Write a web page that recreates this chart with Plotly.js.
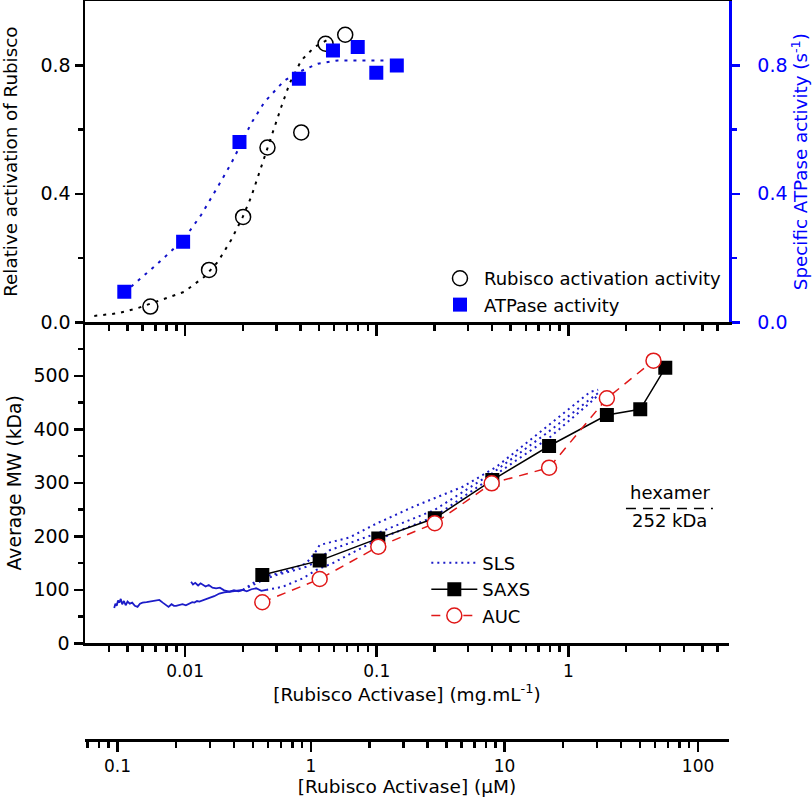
<!DOCTYPE html>
<html>
<head>
<meta charset="utf-8">
<script src="https://cdn.plot.ly/plotly-3.0.1.min.js"></script>
<style>html,body{margin:0;padding:0;background:#fff;}#chart{width:812px;height:799px;}</style>
</head>
<body>
<div id="chart"></div>
<script>
// ---------- Top panel data ----------
const rubiscoConc = [0.00659, 0.01334, 0.02009, 0.02692, 0.04039, 0.0541, 0.0685];
const rubiscoActivation = [0.049, 0.163, 0.328, 0.544, 0.591, 0.867, 0.895];
const atpaseConc = [0.00482, 0.00977, 0.01923, 0.03926, 0.05913, 0.0796, 0.0995, 0.1273];
const atpaseActivity = [0.095, 0.251, 0.561, 0.758, 0.846, 0.857, 0.777, 0.799];
const rubiscoFitConc = [0.00336, 0.00444, 0.00565, 0.0075, 0.00991, 0.01262, 0.01482, 0.01739, 0.0200, 0.02213, 0.02398, 0.02651, 0.02871, 0.03175, 0.0351, 0.04039, 0.04742, 0.05565];
const rubiscoFitVal = [0.020, 0.028, 0.044, 0.069, 0.095, 0.142, 0.188, 0.256, 0.328, 0.390, 0.453, 0.525, 0.588, 0.670, 0.743, 0.815, 0.857, 0.880];
const atpaseFitConc = [0.00523, 0.00705, 0.00977, 0.01213, 0.01482, 0.01739, 0.01923, 0.02213, 0.026, 0.03304, 0.03926, 0.0493, 0.0628, 0.085, 0.110];
const atpaseFitVal = [0.111, 0.178, 0.256, 0.334, 0.422, 0.494, 0.546, 0.619, 0.686, 0.753, 0.779, 0.805, 0.815, 0.816, 0.815];

// ---------- Bottom panel data ----------
const saxsConc = [0.0253, 0.0504, 0.1019, 0.2009, 0.401, 0.793, 1.588, 2.371, 3.203];
const saxsMW = [127.7, 154.5, 196, 233.6, 305, 368.8, 426.7, 437.3, 515];
const aucConc = [0.0253, 0.0504, 0.1019, 0.2009, 0.398, 0.793, 1.588, 2.78];
const aucMW = [76.6, 120.2, 180.6, 224.3, 299, 328.2, 457.9, 528.3];
// SLS: two noisy low-concentration scans, then three dotted scans
const slsNoisyAConc = [0.00427, 0.00433, 0.00440, 0.00447, 0.00454, 0.00462, 0.00470, 0.00480, 0.00490, 0.00501, 0.00515, 0.00530, 0.00547, 0.00565, 0.00582, 0.0060, 0.0063, 0.0066, 0.0070, 0.00734, 0.00765, 0.00796, 0.0082, 0.0085, 0.00875, 0.00898, 0.0093, 0.0097, 0.0101, 0.01052, 0.0109, 0.0112, 0.01155, 0.01188, 0.0126, 0.0134, 0.0142, 0.0151, 0.0160, 0.01706, 0.0185, 0.0200];
const slsNoisyAMW = [66, 74, 70, 80, 76, 83, 73, 79, 71, 78, 74, 76, 70, 68, 74, 76, 77, 78, 79, 81, 76, 72, 68, 73, 70, 70, 72, 73, 71, 75, 77, 76, 79, 78, 82, 85, 88, 93, 95, 96, 97, 99.6];
const slsNoisyBConc = [0.01075, 0.0110, 0.01130, 0.0117, 0.01205, 0.01236, 0.0128, 0.0133, 0.0139, 0.01452, 0.0152, 0.0160, 0.01706, 0.0180, 0.0190, 0.0200, 0.0210, 0.0222, 0.0235, 0.0250, 0.0265];
const slsNoisyBMW = [115, 110, 113, 108, 112, 109, 106, 109, 104, 102.8, 104, 99, 96.4, 99, 97, 99.6, 97, 101, 102.8, 98, 99.6];
const slsUpperConc = [0.0200, 0.02545, 0.0299, 0.0351, 0.0429, 0.0474, 0.0504, 0.0591, 0.0723, 0.1, 0.155, 0.283, 0.422, 0.631, 0.942, 1.30, 1.43];
const slsUpperMW = [99.6, 124.5, 130, 137, 149.5, 168, 183.7, 190, 198, 224, 255, 293, 330, 380, 430, 470, 474];
const slsMiddleConc = [0.0200, 0.02256, 0.02545, 0.0299, 0.0351, 0.0429, 0.0484, 0.0569, 0.1, 0.2, 0.4, 0.769, 1.30, 1.43];
const slsMiddleMW = [99.6, 109, 118, 127.7, 133.8, 143, 152.5, 174, 205.6, 249, 317.8, 392.5, 455, 468];
const slsLowerConc = [0.0265, 0.0324, 0.0412, 0.0484, 0.0591, 0.1, 0.2, 0.4, 0.8, 1.3, 1.45];
const slsLowerMW = [99.6, 105.8, 121.5, 137, 150, 193, 236.6, 311.4, 385, 450, 466];
const hexamerMW = 252;

// ---------- tick labels ----------
const mgTickVals = [0.01, 0.1, 1];
const mgTickText = ['0.01', '0.1', '1'];
const uMTickVals = [0.1, 1, 10, 100];
const uMTickText = ['0.1', '1', '10', '100'];
const topYTickVals = [0, 0.4, 0.8];
const topYTickText = ['0.0', '0.4', '0.8'];
const mwTickVals = [0, 100, 200, 300, 400, 500];
const mwMinorVals = [50, 150, 250, 350, 450, 550];

function logMinor(lo, hi) {
  const out = [];
  for (let e = Math.floor(Math.log10(lo)); e <= Math.ceil(Math.log10(hi)); e++) {
    for (let k = 2; k <= 9; k++) {
      const v = k * Math.pow(10, e);
      if (v >= lo && v <= hi) out.push(v);
    }
  }
  return out;
}

const FONT = 'DejaVu Sans, Verdana, sans-serif';
const BLUE = '#0000ff';
const SLSBLUE = '#1c1cc8';
const XR = [-2.522, 0.838];
const BOT_DOM = [0.1309, 0.5652];
const TOP_DOM = [0.5652, 1.0];
const NBSP = '\u00a0';

const slsLine = {color: SLSBLUE, width: 2, dash: '2px,4px'};
const slsNoisyLine = {color: SLSBLUE, width: 1.8};

const traces = [
  {x: rubiscoFitConc, y: rubiscoFitVal, xaxis: 'x2', yaxis: 'y2', mode: 'lines',
   line: {color: '#000', width: 2, dash: '3px,6px'}, showlegend: false, hoverinfo: 'skip'},
  {x: atpaseFitConc, y: atpaseFitVal, xaxis: 'x2', yaxis: 'y3', mode: 'lines',
   line: {color: '#1010c8', width: 2, dash: '3px,6px'}, showlegend: false, hoverinfo: 'skip'},
  {x: rubiscoConc, y: rubiscoActivation, xaxis: 'x2', yaxis: 'y2', mode: 'markers',
   name: 'Rubisco activation activity', legend: 'legend',
   marker: {symbol: 'circle-open', size: 15, color: '#000', line: {width: 1.5, color: '#000'}}},
  {x: atpaseConc, y: atpaseActivity, xaxis: 'x2', yaxis: 'y3', mode: 'markers',
   name: 'ATPase activity', legend: 'legend',
   marker: {symbol: 'square', size: 14, color: BLUE, line: {width: 0}}},

  {x: slsNoisyAConc, y: slsNoisyAMW, xaxis: 'x', yaxis: 'y', mode: 'lines', line: slsNoisyLine,
   showlegend: false, legend: 'legend2', hoverinfo: 'skip'},
  {x: slsNoisyBConc, y: slsNoisyBMW, xaxis: 'x', yaxis: 'y', mode: 'lines', line: slsNoisyLine,
   showlegend: false, legend: 'legend2', hoverinfo: 'skip'},
  {x: slsUpperConc, y: slsUpperMW, xaxis: 'x', yaxis: 'y', mode: 'lines', line: slsLine, name: 'SLS', legend: 'legend2', showlegend: true},
  {x: slsMiddleConc, y: slsMiddleMW, xaxis: 'x', yaxis: 'y', mode: 'lines', line: slsLine, showlegend: false, legend: 'legend2'},
  {x: slsLowerConc, y: slsLowerMW, xaxis: 'x', yaxis: 'y', mode: 'lines', line: slsLine, showlegend: false, legend: 'legend2'},
  {x: saxsConc, y: saxsMW, xaxis: 'x', yaxis: 'y', mode: 'lines+markers', name: 'SAXS', legend: 'legend2',
   line: {color: '#000', width: 1.5}, marker: {symbol: 'square', size: 14, color: '#000'}},
  {x: aucConc, y: aucMW, xaxis: 'x', yaxis: 'y', mode: 'lines+markers', name: 'AUC', legend: 'legend2',
   line: {color: '#e01818', width: 1.5, dash: '9px,7px'},
   marker: {symbol: 'circle', size: 15, color: '#fff', line: {color: '#e01818', width: 1.5}}},
  // activates the secondary (µM) concentration axis; draws no marks
  {x: uMTickVals, y: uMTickVals.map(() => null), xaxis: 'x3', yaxis: 'y', mode: 'markers',
   showlegend: false, hoverinfo: 'skip', marker: {opacity: 0}}
];

const axBase = {
  showgrid: false, zeroline: false, showline: true, linecolor: '#000', linewidth: 2.5,
  ticks: 'outside', tickcolor: '#000', tickwidth: 2.5, ticklen: 10,
  tickfont: {family: FONT, size: 17, color: '#000'}
};

const layout = {
  width: 812, height: 799,
  margin: {l: 85, r: 83, t: 1, b: 59},
  paper_bgcolor: '#fff', plot_bgcolor: 'rgba(0,0,0,0)',
  font: {family: FONT, size: 18, color: '#000'},
  xaxis: Object.assign({}, axBase, {
    domain: [0, 1], anchor: 'y', type: 'log', range: XR,
    tickmode: 'array', tickvals: mgTickVals, ticktext: mgTickText, ticklen: 11,
    minor: {tickmode: 'array', tickvals: logMinor(0.003, 7), ticks: 'outside', ticklen: 6, tickwidth: 2.5, tickcolor: '#000'},
    title: {text: '[Rubisco Activase] (mg.mL<sup>-1</sup>)', font: {family: FONT, size: 18.5}, standoff: 6}
  }),
  yaxis: Object.assign({}, axBase, {
    domain: BOT_DOM, anchor: 'x', range: [0, 600],
    tickmode: 'array', tickvals: mwTickVals, ticklen: 9, tickfont: {family: FONT, size: 19, color: '#000'},
    minor: {tickmode: 'array', tickvals: mwMinorVals, ticks: 'outside', ticklen: 5, tickwidth: 2.5, tickcolor: '#000'},
    title: {text: 'Average MW (kDa)', font: {family: FONT, size: 18.8}, standoff: 7}
  }),
  yaxis4: Object.assign({}, axBase, {
    overlaying: 'y', side: 'right', anchor: 'x', range: [0, 600], ticks: 'inside', ticklen: 9,
    tickmode: 'array', tickvals: mwTickVals, showticklabels: false,
    minor: {tickmode: 'array', tickvals: mwMinorVals, ticks: 'inside', ticklen: 5, tickwidth: 2.5, tickcolor: '#000'}
  }),
  xaxis2: Object.assign({}, axBase, {
    domain: [0, 1], anchor: 'y2', type: 'log', range: XR, mirror: true,
    tickmode: 'array', tickvals: mgTickVals, showticklabels: false, ticklen: 11,
    minor: {tickmode: 'array', tickvals: logMinor(0.003, 7), ticks: 'outside', ticklen: 6, tickwidth: 2.5, tickcolor: '#000'}
  }),
  yaxis2: Object.assign({}, axBase, {
    domain: TOP_DOM, anchor: 'x2', range: [0, 1.0],
    tickmode: 'array', tickvals: topYTickVals, ticktext: topYTickText, ticklen: 8,
    tickfont: {family: FONT, size: 19, color: '#000'},
    minor: {tickmode: 'array', tickvals: [0.2, 0.6], ticks: 'outside', ticklen: 5, tickwidth: 2.5, tickcolor: '#000'},
    title: {text: 'Relative activation of Rubisco' + NBSP.repeat(5), font: {family: FONT, size: 18.3}, standoff: 19}
  }),
  yaxis3: Object.assign({}, axBase, {
    overlaying: 'y2', side: 'right', anchor: 'x2', range: [0, 1.0],
    linecolor: BLUE, tickcolor: BLUE, ticklen: 8, ticklabelstandoff: 14,
    tickmode: 'array', tickvals: topYTickVals, ticktext: topYTickText,
    tickfont: {family: FONT, size: 19, color: BLUE},
    minor: {tickmode: 'array', tickvals: [0.2, 0.6], ticks: 'outside', ticklen: 5, tickwidth: 2.5, tickcolor: BLUE},
    title: {text: 'Specific ATPase activity (s<sup>-1</sup>)', font: {family: FONT, size: 18.3, color: BLUE}, standoff: 2}
  }),
  xaxis3: Object.assign({}, axBase, {
    overlaying: 'x', anchor: 'free', position: 0, side: 'bottom', type: 'log', range: [-1.168, 2.16],
    tickmode: 'array', tickvals: uMTickVals, ticktext: uMTickText, ticklen: 10, linewidth: 3,
    minor: {tickmode: 'array', tickvals: logMinor(0.06, 150), ticks: 'outside', ticklen: 6, tickwidth: 2.5, tickcolor: '#000'},
    title: {text: '[Rubisco Activase] (μM)', font: {family: FONT, size: 18.5}, standoff: 2}
  }),
  legend: {
    x: 0.545, y: 0.6495, xanchor: 'left', yanchor: 'top', bgcolor: 'rgba(0,0,0,0)',
    font: {family: FONT, size: 18, color: '#000'}, tracegroupgap: 0, itemwidth: 38
  },
  legend2: {
    x: 0.53, y: 0.2645, xanchor: 'left', yanchor: 'top', bgcolor: 'rgba(0,0,0,0)',
    font: {family: FONT, size: 18, color: '#000'}, tracegroupgap: 0, itemwidth: 46
  },
  shapes: [
    {type: 'line', xref: 'paper', yref: 'y', x0: 0.84, x1: 0.975, y0: hexamerMW, y1: hexamerMW,
     line: {color: '#000', width: 1.5, dash: '10px,7px'}}
  ],
  annotations: [
    {xref: 'paper', yref: 'y', x: 0.908, y: hexamerMW + 29, text: 'hexamer', showarrow: false,
     font: {family: FONT, size: 18, color: '#000'}, xanchor: 'center', yanchor: 'middle'},
    {xref: 'paper', yref: 'y', x: 0.908, y: hexamerMW - 22, text: hexamerMW + ' kDa', showarrow: false,
     font: {family: FONT, size: 18, color: '#000'}, xanchor: 'center', yanchor: 'middle'}
  ]
};

Plotly.newPlot('chart', traces, layout, {displayModeBar: false, staticPlot: true});
</script>
</body>
</html>
